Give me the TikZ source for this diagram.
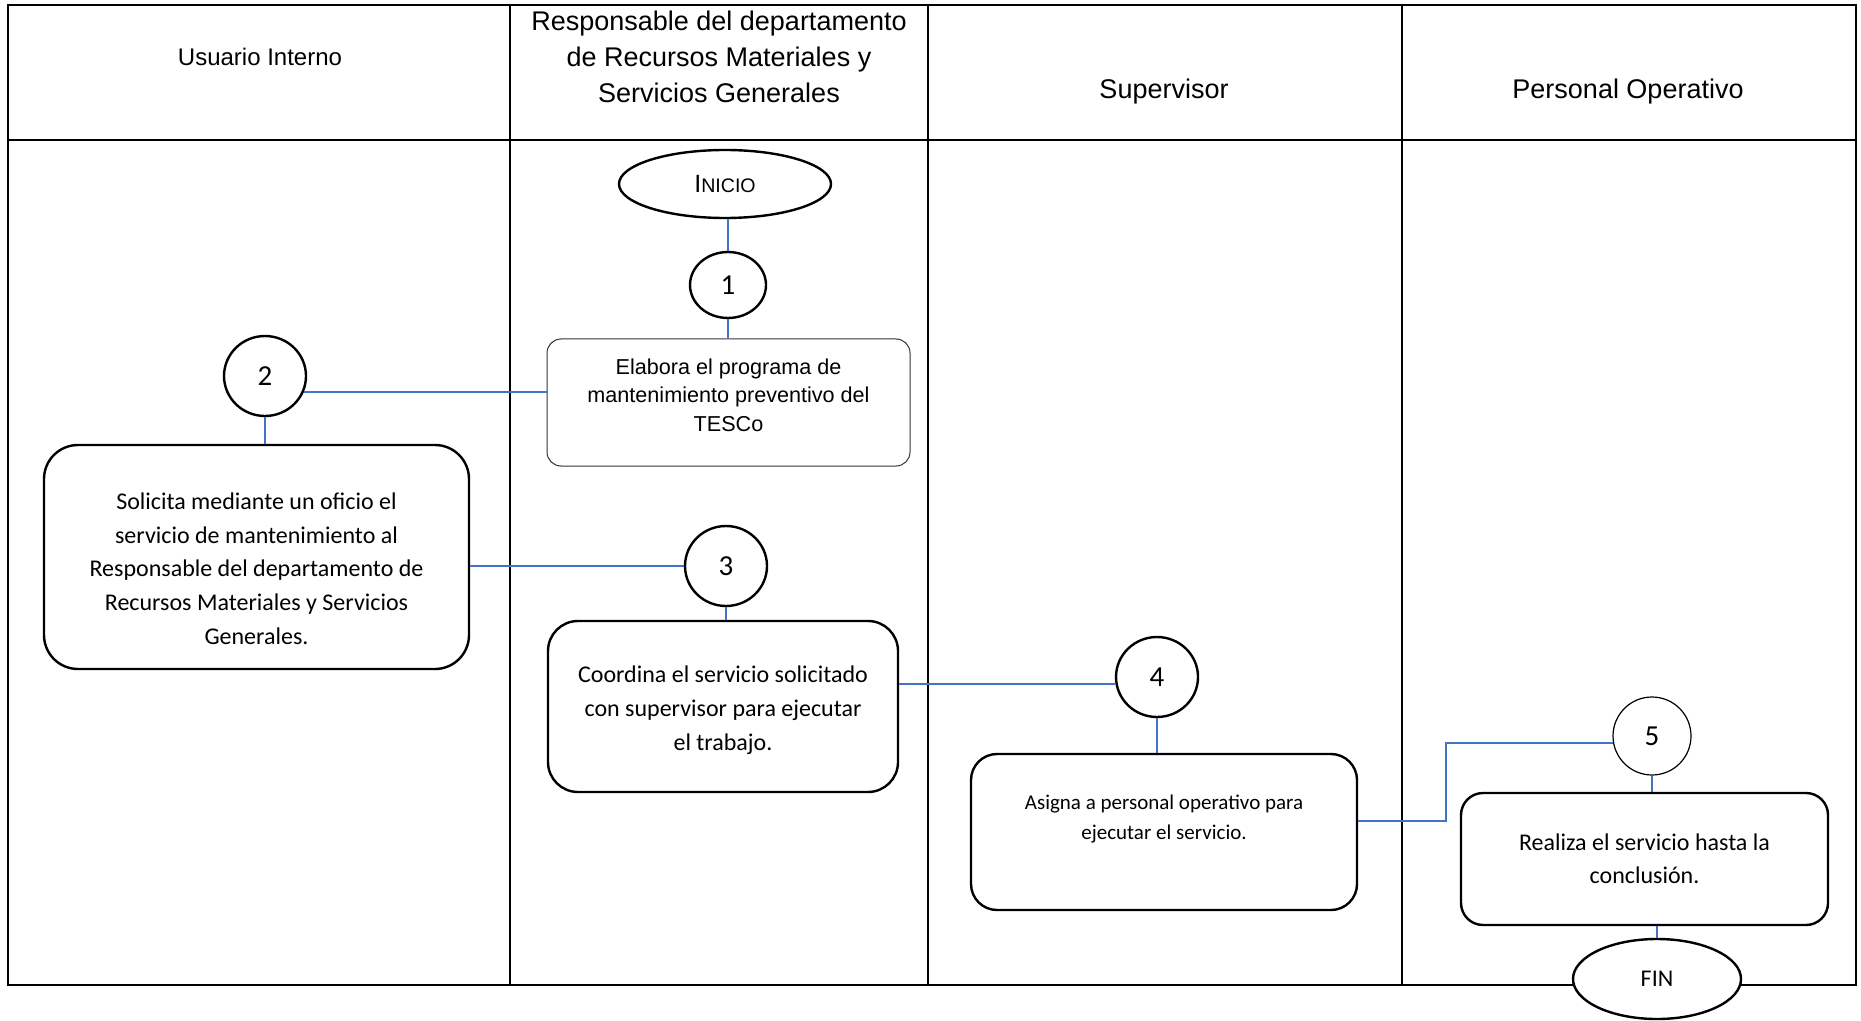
\documentclass[tikz,border=0pt]{standalone}
\usepackage{fontspec}
\setmainfont{Carlito}
\newfontfamily\arialfont{Liberation Sans}
\usetikzlibrary{shapes}
\definecolor{lnkblue}{HTML}{4472C4}
\tikzset{act/.style={rectangle,draw,rounded corners=#1,line width=1.2pt,fill=white,align=center,inner sep=0pt},act/.default=15pt}
\tikzset{num/.style={ellipse,draw,line width=1.2pt,fill=white,inner sep=0pt,minimum width=41pt,minimum height=40pt,font=\fontsize{14.5}{16}\selectfont}}
\tikzset{term/.style={ellipse,draw,line width=1.2pt,fill=white,inner sep=0pt}}
\tikzset{lnk/.style={draw=lnkblue,line width=1pt}}
\tikzset{lane/.style={line width=.7pt}}
\tikzset{hdr/.style={align=center,font=\arialfont\fontsize{13.5}{18}\selectfont}}

\begin{document}
\begin{tikzpicture}[x=.5pt,y=-.5pt]
      \useasboundingbox (0,0) rectangle (1861,1021);
      \draw[line width=1pt] (8,5) rectangle (1856,985);
      \draw[lane] (8,140) -- (1856,140)
      (510,5) -- (510,985)
      (928,5) -- (928,985)
      (1402,5) -- (1402,985);
      \node[hdr,font=\arialfont\fontsize{12}{18}\selectfont] (h1) at (260,57) {Usuario Interno};
      \node[hdr] (h2) at (719,57) {Responsable del departamento\\de Recursos Materiales y\\Servicios Generales};
      \node[hdr] (h3) at (1164,92) {Supervisor};
      \node[hdr] (h4) at (1628,92) {Personal Operativo};
      \node[term,minimum width=106pt,minimum height=34pt,font=\arialfont] (ini) at (725,184) {{\fontsize{12.5}{14}\selectfont I}{\fontsize{9.8}{14}\selectfont NICIO}};
      \node[num,minimum width=38pt,minimum height=33pt] (n1) at (728,285) {1};
      \node[act=7pt,line width=.5pt,draw=black!80,minimum width=181.5pt,minimum height=63.5pt,font=\arialfont\fontsize{10.8}{14.2}\selectfont] (s1) at (728.5,402.5) {Elabora el programa de\\mantenimiento preventivo del\\TESCo\rule[-7.5pt]{0pt}{1pt}};
      \node[num] (n2) at (265,376) {2};
      \node[act=17pt,minimum width=212.5pt,minimum height=112pt,font=\fontsize{12}{16.8}\selectfont] (s2) at (256.5,557) {\rule{0pt}{20pt}Solicita mediante un oficio el\\servicio de mantenimiento al\\Responsable del departamento de\\Recursos Materiales y Servicios\\Generales.};
      \node[num] (n3) at (726,566) {3};
      \node[act=15pt,minimum width=175pt,minimum height=85.5pt,font=\fontsize{12}{17}\selectfont] (s3) at (723,706.5) {\rule{0pt}{12.5pt}Coordina el servicio solicitado\\con supervisor para ejecutar\\el trabajo.};
      \node[num] (n4) at (1157,677) {4};
      \node[act=13pt,minimum width=193pt,minimum height=78pt,font=\fontsize{10.5}{15}\selectfont] (s4) at (1164,832) {Asigna a personal operativo para\\ejecutar el servicio.\\ ~};
      \node[num,line width=.6pt,minimum width=39pt,minimum height=39pt] (n5) at (1652,736) {5};
      \node[act=11pt,minimum width=183.5pt,minimum height=66pt,font=\fontsize{12}{16.5}\selectfont] (s5) at (1644.5,859) {Realiza el servicio hasta la\\conclusión.};
      \node[term,minimum width=84pt,minimum height=40pt,font=\fontsize{12}{14}\selectfont] (fin) at (1657,979) {FIN};
      \coordinate (k5) at (1446,821);
      \draw[lnk] (n1.north) -- (n1.north |- ini.south)
      (n1.south) -- (n1.south |- s1.north)
      (n2.-22) -- (n2.-22 -| s1.west)
      (n2.south) -- (n2.south |- s2.north)
      (n3.west) -- (n3.west -| s2.east)
      (n3.south) -- (n3.south |- s3.north)
      (n4.190) -- (n4.190 -| s3.east)
      (n4.south) -- (n4.south |- s4.north)
      (n5.190) -| (k5) -- (k5 -| s4.east)
      (n5.south) -- (n5.south |- s5.north)
      (fin.north) -- (fin.north |- s5.south);
    \end{tikzpicture}
\end{document}
